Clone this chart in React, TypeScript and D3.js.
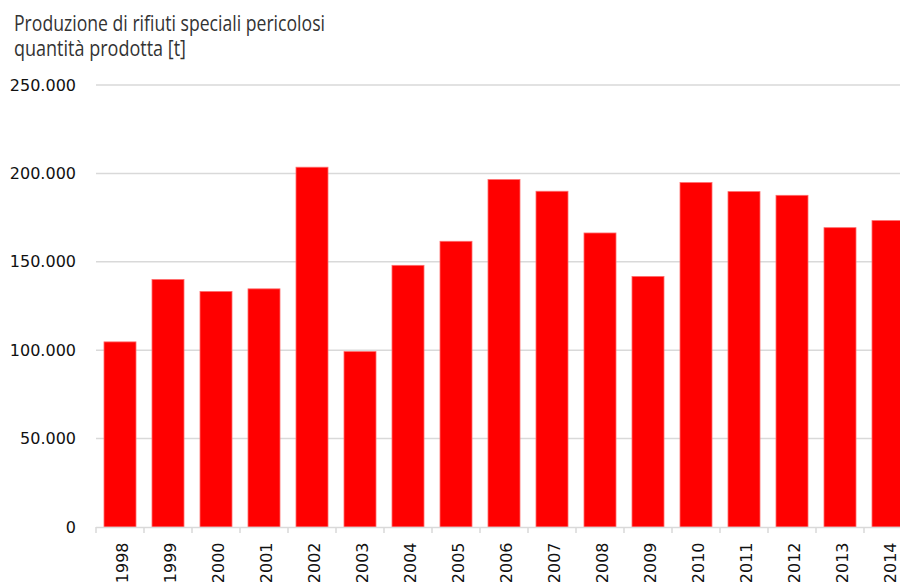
import React from "react";
import * as d3 from "d3";

const years = ["1998","1999","2000","2001","2002","2003","2004","2005","2006","2007","2008","2009","2010","2011","2012","2013","2014"];
const values = [104700,140000,133200,134700,203500,99200,148000,161600,196500,189900,166300,141700,194800,189700,187600,169300,173300];
const yTicks = [0,50000,100000,150000,200000,250000];
const titleLines = ["Produzione di rifiuti speciali pericolosi","quantità prodotta [t]"];

const W = 900, H = 582;

export default function App() {
  const x = d3.scaleBand<string>().domain(years).range([96, 912]).paddingInner(1/3).paddingOuter(1/6);
  const y = d3.scaleLinear().domain([0, 250000]).range([527, 85]);
  const fmt = (v: number) => d3.format(",")(v).replace(/,/g, ".");
  const step = x.step();
  const x0 = x.range()[0];
  return (
    <svg width={W} height={H} style={{ position: "absolute", left: 0, top: 0, background: "#fff" }}>
      <g fontFamily="'Liberation Sans Narrow', 'Open Sans', sans-serif" fontSize={21} fill="#333">
        <text x={14} y={31} textLength={311} lengthAdjust="spacingAndGlyphs">{titleLines[0]}</text>
        <text x={14} y={56} textLength={172} lengthAdjust="spacingAndGlyphs">{titleLines[1]}</text>
      </g>
      {yTicks.filter(t => t > 0).map(t => (
        <line key={t} x1={96} x2={W} y1={y(t)} y2={y(t)} stroke="#d9d9d9" strokeWidth={1.5} />
      ))}
      {yTicks.map(t => (
        <text key={"l"+t} x={76} y={y(t)} dy="0.35em" textAnchor="end" fontFamily="'DejaVu Sans', sans-serif" fontSize={16} fill="#111">{fmt(t)}</text>
      ))}
      {years.map((yr, i) => (
        <rect key={yr} x={x(yr)} y={y(values[i])} width={x.bandwidth()} height={y(0) - y(values[i])} fill="#ff0000" stroke="#ff6b6b" strokeWidth={0.8} />
      ))}
      <line x1={96} x2={W} y1={y(0) + 0.5} y2={y(0) + 0.5} stroke="#d9d9d9" strokeWidth={1.5} />
      {d3.range(years.length + 1).map(i => (
        <line key={"t"+i} x1={x0 + i*step} x2={x0 + i*step} y1={y(0)} y2={y(0) + 6} stroke="#d9d9d9" strokeWidth={1.5} />
      ))}
      {years.map(yr => {
        const cx = (x(yr) as number) + x.bandwidth() / 2;
        return (
          <text key={"x"+yr} transform={`translate(${cx},542.5) rotate(-90)`} dy="0.5em" textAnchor="end" fontFamily="'DejaVu Sans', sans-serif" fontSize={16} fill="#111">{yr}</text>
        );
      })}
    </svg>
  );
}
